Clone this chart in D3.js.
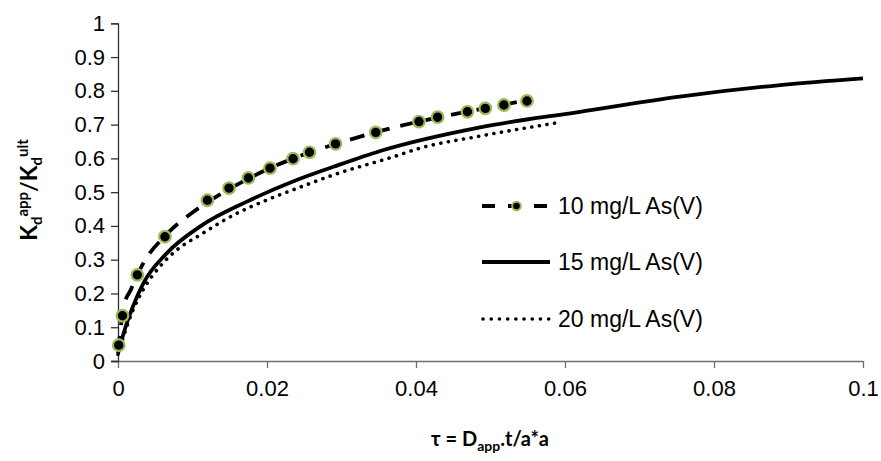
<!DOCTYPE html>
<html>
<head>
<meta charset="utf-8">
<script src="https://cdn.jsdelivr.net/npm/d3@7"></script>
<style>
  html, body { margin: 0; padding: 0; background: #fff; }
  svg { display: block; }
</style>
</head>
<body>
<svg id="chart" width="881" height="461"></svg>
<script>
// ---- Data ----
const obs10X = [0.0001, 0.0006, 0.0026, 0.0063, 0.0120, 0.0149, 0.0175, 0.0204, 0.0235, 0.0257, 0.0292, 0.0346, 0.0404, 0.0429, 0.0469, 0.0493, 0.0518, 0.0549];
const obs10Y = [0.047, 0.134, 0.255, 0.368, 0.476, 0.512, 0.542, 0.571, 0.599, 0.618, 0.643, 0.677, 0.709, 0.722, 0.738, 0.748, 0.758, 0.770];

const fit10X = [0, 0.0003, 0.0007, 0.0018, 0.0034, 0.0063, 0.010, 0.012, 0.015, 0.0175, 0.020, 0.025, 0.030, 0.035, 0.040, 0.045, 0.050, 0.055];
const fit10Y = [0.03, 0.085, 0.155, 0.215, 0.29, 0.37, 0.44, 0.47, 0.51, 0.54, 0.567, 0.612, 0.648, 0.68, 0.707, 0.73, 0.752, 0.772];

const fit15X = [0, 0.001, 0.002, 0.0034, 0.0065, 0.011, 0.0173, 0.024, 0.0289, 0.0352, 0.0486, 0.062, 0.0754, 0.0889, 0.1];
const fit15Y = [0.022, 0.10, 0.161, 0.23, 0.318, 0.398, 0.472, 0.536, 0.575, 0.622, 0.692, 0.738, 0.783, 0.817, 0.837];

const fit20X = [0, 0.001, 0.002, 0.0034, 0.0056, 0.0079, 0.011, 0.0155, 0.020, 0.024, 0.0289, 0.037, 0.0405, 0.0486, 0.0591];
const fit20Y = [0.02, 0.09, 0.15, 0.212, 0.279, 0.329, 0.373, 0.432, 0.477, 0.511, 0.551, 0.605, 0.630, 0.666, 0.706];

const xTicks = [0, 0.02, 0.04, 0.06, 0.08, 0.1];
const xTickLabels = ["0", "0.02", "0.04", "0.06", "0.08", "0.1"];
const yTicks = [0, 0.1, 0.2, 0.3, 0.4, 0.5, 0.6, 0.7, 0.8, 0.9, 1];
const yTickLabels = ["0", "0.1", "0.2", "0.3", "0.4", "0.5", "0.6", "0.7", "0.8", "0.9", "1"];
const legendLabels = ["10 mg/L As(V)", "15 mg/L As(V)", "20 mg/L As(V)"];

// ---- Layout ----
const svg = d3.select("#chart");
const x = d3.scaleLinear().domain([0, 0.1]).range([118, 863]);
const y = d3.scaleLinear().domain([0, 1]).range([361, 23.3]);
const tickFont = "'Liberation Sans', Arial, sans-serif";
const titleFont = "Lato, 'Open Sans', sans-serif";
const axisColor = "#6e6e6e";
const markerGreen = "#9BBB59";

// Axes
const xAxis = d3.axisBottom(x).tickValues(xTicks).tickFormat((d, i) => xTickLabels[i]).tickSizeOuter(0).tickSize(7).tickPadding(12);
const gx = svg.append("g").attr("transform", `translate(0,${y(0)})`).call(xAxis);
gx.select(".domain").attr("stroke", axisColor).attr("stroke-width", 1.3).attr("d", `M${x(0)-7},0.5H${x(0.1)}`);
gx.selectAll(".tick line").attr("stroke", axisColor).attr("stroke-width", 1.3);
gx.selectAll(".tick text").attr("font-family", tickFont).attr("font-size", 22).attr("fill", "#000").attr("dy", "0.72em");

const yAxis = d3.axisLeft(y).tickValues(yTicks).tickFormat((d, i) => yTickLabels[i]).tickSizeOuter(0).tickSize(7).tickPadding(6);
const gy = svg.append("g").attr("transform", `translate(${x(0)},0)`).call(yAxis);
gy.select(".domain").attr("stroke", "#333").attr("stroke-width", 1.3);
gy.selectAll(".tick line").attr("stroke", "#333").attr("stroke-width", 1.3);
gy.selectAll(".tick text").attr("font-family", tickFont).attr("font-size", 22).attr("fill", "#000");

// Lines
const line = d3.line().x(d => x(d[0])).y(d => y(d[1])).curve(d3.curveMonotoneX);
const zip = (a, b) => a.map((v, i) => [v, b[i]]);

svg.append("path").datum(zip(fit20X, fit20Y)).attr("d", line)
  .attr("fill", "none").attr("stroke", "#000").attr("stroke-width", 3.6)
  .attr("stroke-linecap", "round").attr("stroke-dasharray", "0.1,7.6");

svg.append("path").datum(zip(fit15X, fit15Y)).attr("d", line)
  .attr("fill", "none").attr("stroke", "#000").attr("stroke-width", 3.8);

svg.append("path").datum(zip(fit10X, fit10Y)).attr("d", line)
  .attr("fill", "none").attr("stroke", "#000").attr("stroke-width", 3.8)
  .attr("stroke-dasharray", "15,11");

svg.append("g").selectAll("circle").data(zip(obs10X, obs10Y)).join("circle")
  .attr("cx", d => x(d[0])).attr("cy", d => y(d[1])).attr("r", 5.8)
  .attr("fill", "#000").attr("stroke", markerGreen).attr("stroke-width", 2.2);

// Legend
const legRowsY = [206, 262, 319];
const leg = svg.append("g");
// row 1: dashed with marker
leg.append("line").attr("x1", 482).attr("x2", 550).attr("y1", legRowsY[0]).attr("y2", legRowsY[0])
  .attr("stroke", "#000").attr("stroke-width", 3.8).attr("stroke-dasharray", "13,13");
leg.append("circle").attr("cx", 516.5).attr("cy", legRowsY[0]).attr("r", 4.3)
  .attr("fill", "#000").attr("stroke", markerGreen).attr("stroke-width", 2);
// row 2: solid
leg.append("line").attr("x1", 482).attr("x2", 550).attr("y1", legRowsY[1]).attr("y2", legRowsY[1])
  .attr("stroke", "#000").attr("stroke-width", 3.8);
// row 3: dotted
leg.append("line").attr("x1", 483).attr("x2", 550).attr("y1", legRowsY[2]).attr("y2", legRowsY[2])
  .attr("stroke", "#000").attr("stroke-width", 3.6).attr("stroke-linecap", "round").attr("stroke-dasharray", "0.1,8.1");
leg.selectAll("text").data(legendLabels).join("text")
  .attr("x", 558).attr("y", (d, i) => legRowsY[i]).attr("dy", "0.36em")
  .attr("font-family", tickFont).attr("font-size", 23).attr("fill", "#000").text(d => d);

// Axis titles
const yt = svg.append("text").attr("transform", "translate(37,190) rotate(-90)")
  .attr("text-anchor", "middle").attr("font-family", titleFont).attr("font-weight", "bold")
  .attr("font-size", 23).attr("fill", "#000");
yt.append("tspan").text("K");
yt.append("tspan").attr("font-size", 15).attr("dy", 5).text("d");
yt.append("tspan").attr("font-size", 15).attr("dy", -14).text("app");
yt.append("tspan").attr("dy", 9).text("/K");
yt.append("tspan").attr("font-size", 15).attr("dy", 5).text("d");
yt.append("tspan").attr("font-size", 15).attr("dy", -14).text("ult");

const xt = svg.append("text").attr("x", 490).attr("y", 446)
  .attr("text-anchor", "middle").attr("font-family", titleFont).attr("font-weight", "bold")
  .attr("font-size", 20).attr("fill", "#000");
xt.append("tspan").text("τ = D");
xt.append("tspan").attr("font-size", 14).attr("dy", 5).text("app");
xt.append("tspan").attr("dy", -5).text(".t/a*a");
</script>
</body>
</html>
